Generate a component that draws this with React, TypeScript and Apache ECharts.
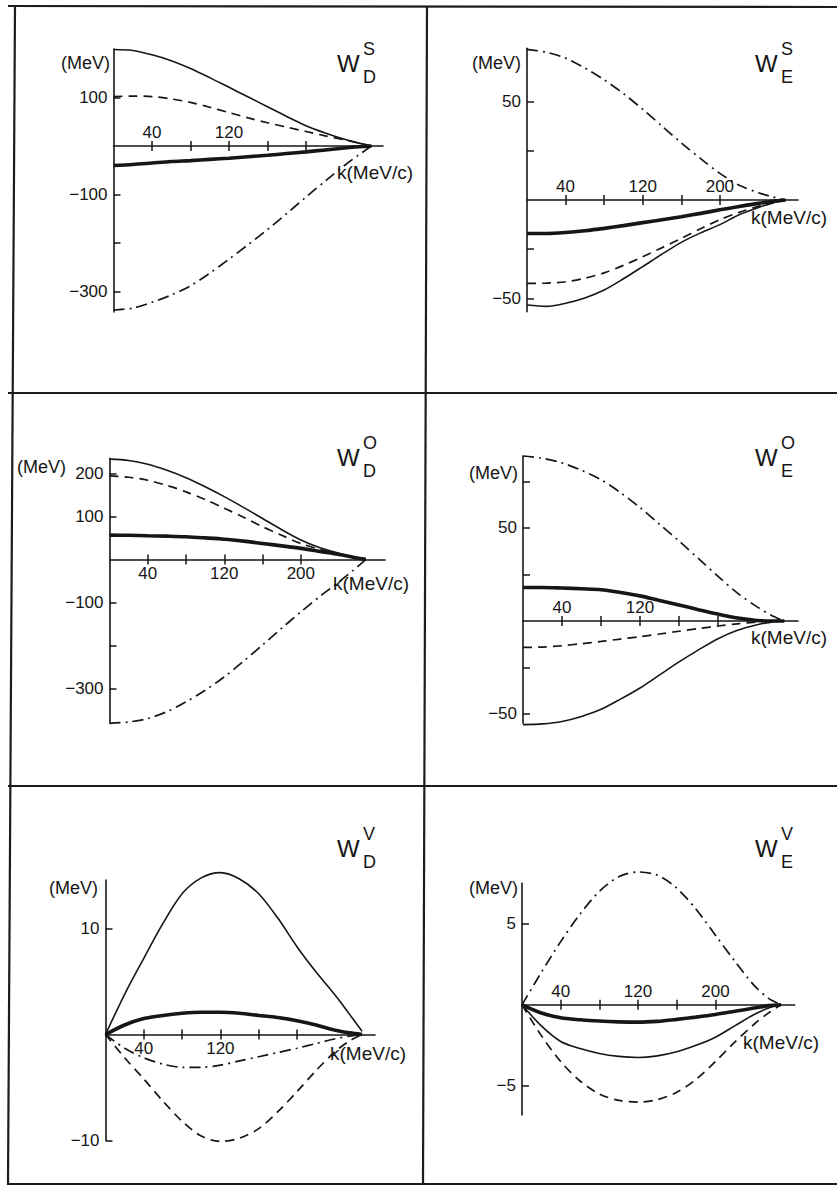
import { useEffect, useRef } from "react";
import * as echarts from "echarts";

// momentum grid k (MeV/c)
const K = [0, 20, 40, 60, 80, 100, 120, 140, 160, 180, 200, 220, 240, 255, 268];

// W_D^S
const dsThin = [199, 197, 188, 176, 160, 141, 121, 101, 81, 61, 42, 27, 14, 6, 0];
const dsDashed = [102, 103, 102, 97, 90, 80, 69, 58, 48, 39, 30, 21, 13, 6, 0];
const dsThick = [-40, -38, -35, -32, -30, -27.5, -25, -22, -19, -15.5, -12, -8, -4, -1.5, 0];
const dsDotDash = [-338, -334, -322, -307, -288, -262, -233, -203, -172, -139, -105, -72, -40, -18, 0];

// W_E^S
const esDotDash = [76.5, 75, 72, 67, 61, 54, 46, 37.5, 29, 21, 13.5, 7.5, 3.7, 1.5, 0];
const esThick = [-17, -17, -16.5, -15.6, -14.4, -13, -11.5, -10, -8.5, -6.8, -5, -3.3, -1.7, -0.7, 0];
const esDashed = [-42.3, -42.2, -41.5, -39.7, -37, -33.2, -28.8, -24.2, -19.5, -14.6, -10, -6.3, -3.2, -1.3, 0];
const esThin = [-53.3, -54, -52.4, -49.7, -45.7, -40, -33.8, -27.5, -21.5, -16.7, -12.5, -7.5, -3.8, -1.5, 0];

// W_D^O
const doThin = [233, 230, 221, 207, 190, 169, 146, 121, 95, 69, 45, 27, 14, 5, 0];
const doDashed = [194, 191, 184, 172, 157, 139, 119, 98, 76, 56, 37, 23, 12, 5, 0];
const doThick = [56.5, 56, 55, 54, 52.6, 50, 47, 42.5, 37, 31.5, 25.6, 18.5, 11.6, 5, 0];
const doDotDash = [-381, -378, -370, -354, -331, -304, -273, -237, -199, -160, -122, -86, -52, -25, 0];

// W_E^O
const eoDotDash = [88.7, 87.5, 85, 81, 76, 69, 61, 52, 43, 33.5, 24, 15, 7.6, 3, 0];
const eoThick = [18, 18, 17.7, 17.3, 16.8, 15.3, 13.5, 11, 8.6, 6.1, 3.7, 1.6, 0.3, 0, 0];
const eoDashed = [-14.2, -14, -13.3, -12.2, -11, -9.7, -8.4, -7, -5.5, -4.1, -2.7, -1.5, -0.5, 0, 0];
const eoThin = [-55.7, -55.3, -54, -51.3, -47.5, -42, -36, -29, -22, -15.5, -9.5, -5, -2, -0.6, 0];

// W_D^V
const dvThin = [0, 3.8, 7.2, 10.5, 13.3, 14.8, 15.3, 14.7, 13.3, 11, 8.3, 5.9, 3.7, 1.9, 0.3];
const dvThick = [0, 0.9, 1.5, 1.8, 2.0, 2.1, 2.1, 2.0, 1.8, 1.6, 1.3, 0.9, 0.4, 0.15, 0];
const dvDotDash = [0, -1.3, -2.2, -2.8, -3.1, -3.1, -2.9, -2.5, -2.1, -1.7, -1.3, -0.85, -0.4, -0.15, 0];
const dvDashed = [0, -2.2, -4.2, -6.3, -8.2, -9.6, -10.1, -9.8, -8.9, -7.3, -5.4, -3.4, -1.6, -0.6, 0];

// W_E^V
const evDotDash = [0, 2.0, 3.9, 5.6, 7.0, 7.9, 8.2, 8.0, 7.2, 5.9, 4.3, 2.7, 1.2, 0.4, 0];
const evThick = [0, -0.5, -0.8, -0.92, -1.0, -1.05, -1.07, -1.02, -0.9, -0.76, -0.6, -0.4, -0.2, -0.05, 0];
const evThin = [0, -1.3, -2.26, -2.7, -3.0, -3.18, -3.25, -3.15, -2.9, -2.5, -2.0, -1.3, -0.6, -0.2, 0];
const evDashed = [0, -1.9, -3.5, -4.7, -5.5, -5.9, -6.0, -5.85, -5.4, -4.6, -3.5, -2.3, -1.2, -0.5, 0];

// tick marks and tick labels
const xTicks = [40, 80, 120, 160, 200];
const xLabels12 = [40, 120];
const xLabels123 = [40, 120, 200];
const dsYTicks = [100, -100, -200, -300];
const dsYLabels = [100, -100, -300];
const esYTicks = [50, 25, -25, -50];
const esYLabels = [50, -50];
const doYTicks = [200, 100, -100, -200, -300];
const doYLabels = [200, 100, -100, -300];
const eoYTicks = [75, 50, 25, -25, -50];
const eoYLabels = [50, -50];
const dvYTicks = [10, -10];
const dvYLabels = [10, -10];
const evYTicks = [5, -5];
const evYLabels = [5, -5];

const titles = [
  { main: "W", sup: "S", sub: "D" },
  { main: "W", sup: "S", sub: "E" },
  { main: "W", sup: "O", sub: "D" },
  { main: "W", sup: "O", sub: "E" },
  { main: "W", sup: "V", sub: "D" },
  { main: "W", sup: "V", sub: "E" },
];

const INK = "#161616";
const FONT = "Liberation Sans, Arial, sans-serif";

type Curve = { vals: number[]; kind: "thin" | "thick" | "dashed" | "dotdash" };

const panels = [
  {
    grid: { left: 113.5, top: 49, width: 269.5, height: 263 },
    xMax: 280, yMin: -342, yMax: 200, yTicks: dsYTicks, yLabels: dsYLabels,
    xLabels: xLabels12, labelsTop: true,
    curves: [
      { vals: dsThin, kind: "thin" }, { vals: dsDashed, kind: "dashed" },
      { vals: dsThick, kind: "thick" }, { vals: dsDotDash, kind: "dotdash" },
    ] as Curve[],
    mev: { x: 110, y: 63 }, kLbl: { x: 337, y: 172 }, title: { x: 337, y: 63 },
  },
  {
    grid: { left: 527, top: 48.3, width: 271, height: 263.4 },
    xMax: 281, yMin: -56.7, yMax: 77, yTicks: esYTicks, yLabels: esYLabels,
    xLabels: xLabels123, labelsTop: true,
    curves: [
      { vals: esDotDash, kind: "dotdash" }, { vals: esThick, kind: "thick" },
      { vals: esDashed, kind: "dashed" }, { vals: esThin, kind: "thin" },
    ] as Curve[],
    mev: { x: 521, y: 63 }, kLbl: { x: 751, y: 217 }, title: { x: 755, y: 63 },
  },
  {
    grid: { left: 109.5, top: 458.3, width: 275.5, height: 265 },
    xMax: 288, yMin: -381, yMax: 235, yTicks: doYTicks, yLabels: doYLabels,
    xLabels: xLabels123, labelsTop: false,
    curves: [
      { vals: doThin, kind: "thin" }, { vals: doDashed, kind: "dashed" },
      { vals: doThick, kind: "thick" }, { vals: doDotDash, kind: "dotdash" },
    ] as Curve[],
    mev: { x: 66, y: 467 }, kLbl: { x: 333, y: 583 }, title: { x: 337, y: 457 },
  },
  {
    grid: { left: 523, top: 456, width: 275, height: 267.3 },
    xMax: 282, yMin: -55, yMax: 88.7, yTicks: eoYTicks, yLabels: eoYLabels,
    xLabels: xLabels12, labelsTop: true,
    curves: [
      { vals: eoDotDash, kind: "dotdash" }, { vals: eoThick, kind: "thick" },
      { vals: eoDashed, kind: "dashed" }, { vals: eoThin, kind: "thin" },
    ] as Curve[],
    mev: { x: 518, y: 473 }, kLbl: { x: 751, y: 637 }, title: { x: 755, y: 457 },
  },
  {
    grid: { left: 105.5, top: 880, width: 269.5, height: 260.3 },
    xMax: 281.5, yMin: -10, yMax: 14.6, yTicks: dvYTicks, yLabels: dvYLabels,
    xLabels: xLabels12, labelsTop: false,
    curves: [
      { vals: dvThin, kind: "thin" }, { vals: dvThick, kind: "thick" },
      { vals: dvDotDash, kind: "dotdash" }, { vals: dvDashed, kind: "dashed" },
    ] as Curve[],
    mev: { x: 98, y: 888 }, kLbl: { x: 330, y: 1053 }, title: { x: 337, y: 848 },
  },
  {
    grid: { left: 522, top: 883.3, width: 272.7, height: 231.7 },
    xMax: 282, yMin: -6.8, yMax: 7.5, yTicks: evYTicks, yLabels: evYLabels,
    xLabels: xLabels123, labelsTop: true,
    curves: [
      { vals: evDotDash, kind: "dotdash" }, { vals: evThick, kind: "thick" },
      { vals: evThin, kind: "thin" }, { vals: evDashed, kind: "dashed" },
    ] as Curve[],
    mev: { x: 518, y: 888 }, kLbl: { x: 743, y: 1042 }, title: { x: 755, y: 848 },
  },
];

function lineStyleFor(kind: Curve["kind"]) {
  switch (kind) {
    case "thick":
      return { color: INK, width: 3.6, type: "solid" as const };
    case "dashed":
      return { color: INK, width: 1.7, type: [9, 6] };
    case "dotdash":
      return { color: INK, width: 1.7, type: [11, 5, 2, 5] };
    default:
      return { color: INK, width: 1.6, type: "solid" as const };
  }
}

const fmtMinus = (v: number) => String(v).replace("-", "\u2212");

function buildOption() {
  const grid: any[] = [];
  const xAxis: any[] = [];
  const yAxis: any[] = [];
  const series: any[] = [];
  const graphic: any[] = [];
  const labelStyle = { color: INK, fontSize: 17, fontFamily: FONT };

  panels.forEach((p, i) => {
    grid.push({ ...p.grid });
    // distance from grid top to the value 0 on the y scale
    const zeroOff = (p.grid.height * p.yMax) / (p.yMax - p.yMin);
    // main x axis (line + downward ticks), moved up to y = 0
    xAxis.push({
      type: "value", gridIndex: i, min: 0, max: p.xMax, position: "bottom",
      offset: -(p.grid.height - zeroOff),
      axisLine: { show: true, onZero: false, lineStyle: { color: INK, width: 1.6 } },
      axisTick: { show: true, length: 5, customValues: xTicks, lineStyle: { color: INK, width: 1.5 } },
      axisLabel: { show: !p.labelsTop, customValues: p.xLabels, margin: 6, ...labelStyle },
      splitLine: { show: false },
    });
    // companion x axis (upward ticks + labels above), moved down to y = 0
    xAxis.push({
      type: "value", gridIndex: i, min: 0, max: p.xMax, position: "top",
      offset: -zeroOff,
      axisLine: { show: false, onZero: false },
      axisTick: { show: true, length: 5, customValues: xTicks, lineStyle: { color: INK, width: 1.5 } },
      axisLabel: { show: p.labelsTop, customValues: p.xLabels, margin: 5, ...labelStyle },
      splitLine: { show: false },
    });
    yAxis.push({
      type: "value", gridIndex: i, min: p.yMin, max: p.yMax, position: "left",
      axisLine: { show: true, onZero: false, lineStyle: { color: INK, width: 1.6 } },
      axisTick: { show: true, inside: true, length: 7, customValues: p.yTicks, lineStyle: { color: INK, width: 1.5 } },
      axisLabel: { show: true, customValues: p.yLabels, margin: 6, formatter: fmtMinus, ...labelStyle },
      splitLine: { show: false },
    });
    p.curves.forEach((c) => {
      series.push({
        type: "line", xAxisIndex: i * 2, yAxisIndex: i,
        data: K.map((k, j) => [k, c.vals[j]]),
        smooth: 0.3, showSymbol: false, symbol: "none", clip: false,
        lineStyle: lineStyleFor(c.kind), silent: true,
      });
    });
    graphic.push({
      type: "text", x: p.mev.x, y: p.mev.y,
      style: { text: "(MeV)", fill: INK, font: `18px ${FONT}`, textAlign: "right", textVerticalAlign: "middle" },
    });
    graphic.push({
      type: "text", x: p.kLbl.x, y: p.kLbl.y,
      style: { text: "k(MeV/c)", fill: INK, font: `19px ${FONT}`, textAlign: "left", textVerticalAlign: "middle" },
    });
    const t = titles[i];
    graphic.push({
      type: "text", x: p.title.x, y: p.title.y,
      style: { text: t.main, fill: INK, font: `24px ${FONT}`, textAlign: "left", textVerticalAlign: "middle" },
    });
    graphic.push({
      type: "text", x: p.title.x + 26, y: p.title.y - 14,
      style: { text: t.sup, fill: INK, font: `18px ${FONT}`, textAlign: "left", textVerticalAlign: "middle" },
    });
    graphic.push({
      type: "text", x: p.title.x + 26, y: p.title.y + 14,
      style: { text: t.sub, fill: INK, font: `18px ${FONT}`, textAlign: "left", textVerticalAlign: "middle" },
    });
  });

  // frame lines
  const frame = { stroke: "#1c1c1c", lineWidth: 2.2 };
  const lines = [
    [15, 6, 8, 1185],
    [8, 6, 837, 7],
    [427, 6, 423, 1185],
    [8, 393, 837, 393],
    [8, 786, 837, 786],
    [8, 1184, 837, 1184],
  ];
  lines.forEach(([x1, y1, x2, y2]) =>
    graphic.push({ type: "line", shape: { x1, y1, x2, y2 }, style: frame, silent: true })
  );

  return { animation: false, backgroundColor: "#ffffff", grid, xAxis, yAxis, series, graphic };
}

export default function App() {
  const ref = useRef<HTMLDivElement>(null);
  useEffect(() => {
    if (!ref.current) return;
    const chart = echarts.init(ref.current, undefined, { renderer: "svg" });
    chart.setOption(buildOption() as any);
    return () => chart.dispose();
  }, []);
  return (
    <div
      ref={ref}
      style={{ position: "absolute", left: 0, top: 0, width: 837, height: 1187, background: "#fff" }}
    />
  );
}
